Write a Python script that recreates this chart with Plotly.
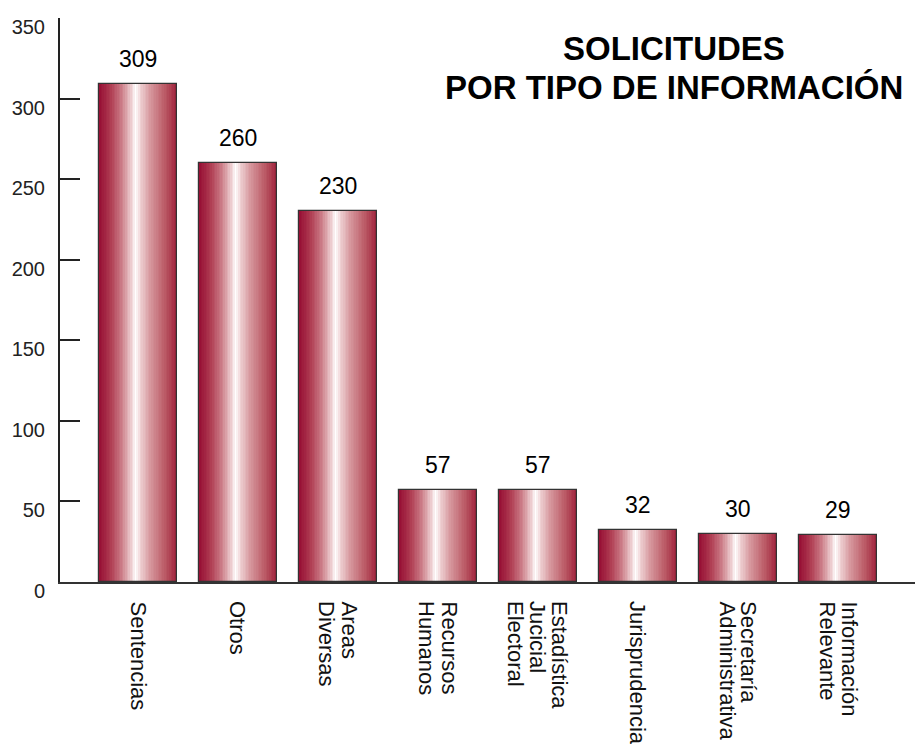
import plotly.graph_objects as go

categories = ["Sentencias", "Otros", "Areas Diversas", "Recursos Humanos",
              "Estadística Jucicial Electoral", "Jurisprudencia",
              "Secretaría Administrativa", "Información Relevante"]
values = [309, 260, 230, 57, 57, 32, 30, 29]
tick_lines = [["Sentencias"], ["Otros"], ["Areas", "Diversas"], ["Recursos", "Humanos"],
              ["Estadística", "Jucicial", "Electoral"], ["Jurisprudencia"],
              ["Secretaría", "Administrativa"], ["Información", "Relevante"]]
y_ticks = [0, 50, 100, 150, 200, 250, 300, 350]
title_lines = ["SOLICITUDES", "POR TIPO DE INFORMACIÓN"]

# gradient stops (position, rgb)
stops = [(0.00, (150, 14, 52)), (0.15, (175, 60, 82)), (0.30, (206, 130, 140)),
         (0.42, (240, 212, 214)), (0.47, (255, 255, 255)), (0.53, (238, 208, 210)),
         (0.66, (214, 150, 156)), (0.85, (186, 88, 100)), (1.00, (158, 32, 58))]

def color_at(t):
    for (p0, c0), (p1, c1) in zip(stops[:-1], stops[1:]):
        if p0 <= t <= p1:
            f = (t - p0) / (p1 - p0) if p1 > p0 else 0
            c = [round(a + (b - a) * f) for a, b in zip(c0, c1)]
            return f"rgb({c[0]},{c[1]},{c[2]})"
    return f"rgb{stops[-1][1]}"

BAR_W = 0.78
N = 48
step = BAR_W / N
fig = go.Figure()
for i in range(N):
    off = -BAR_W / 2 + i * step
    w = min(step * 1.8, BAR_W / 2 - off)
    fig.add_trace(go.Bar(x=categories, y=values, offset=off, width=w,
                         marker=dict(color=color_at((i + 0.5) / N), line=dict(width=0)),
                         hoverinfo="skip", showlegend=False))
fig.add_trace(go.Bar(x=categories, y=values, width=BAR_W,
                     marker=dict(color="rgba(0,0,0,0)", line=dict(color="#333333", width=1.2)),
                     showlegend=False, hoverinfo="x+y"))

annotations = []
for c, v in zip(categories, values):
    annotations.append(dict(x=c, y=v, xref="x", yref="y", text=str(v), showarrow=False,
                            yanchor="bottom", yshift=10,
                            font=dict(family="Liberation Sans, Arial", size=23, color="#000")))
SP = 22
for c, lines in zip(categories, tick_lines):
    k = len(lines)
    for j, ln in enumerate(lines):
        annotations.append(dict(x=c, y=0, xref="x", yref="paper", text=ln, showarrow=False,
                                textangle=90, xanchor="center", yanchor="top",
                                xshift=((k - 1) / 2 - j) * SP, yshift=-17,
                                font=dict(family="Liberation Sans, Arial", size=22, color="#111")))

W, H = 915, 750
ML, MR, MT, MB = 60, 0, 18, 168
pw, ph = W - ML - MR, H - MT - MB
for j, t in enumerate(title_lines):
    px_y = [48, 87][j]
    annotations.append(dict(x=(674 - ML) / pw, y=(H - MB - px_y) / ph, xref="paper", yref="paper",
                            text=f"<b>{t}</b>", showarrow=False, xanchor="center", yanchor="middle",
                            font=dict(family="Liberation Sans, Arial", size=33, color="#000")))

fig.update_layout(
    width=W, height=H, barmode="overlay", bargap=0,
    margin=dict(l=ML, r=MR, t=MT, b=MB, autoexpand=False),
    plot_bgcolor="white", paper_bgcolor="white",
    annotations=annotations,
    font=dict(family="Liberation Sans, Arial", color="#222"),
    xaxis=dict(type="category", range=[-0.78, 7.77], showline=True, linecolor="#333",
               linewidth=2, showticklabels=False, ticks="", showgrid=False, zeroline=False),
    yaxis=dict(range=[0, 350.01], tickvals=y_ticks, showline=True, linecolor="#222", linewidth=2,
               ticks="inside", ticklen=20, tickwidth=2, tickcolor="#222", showgrid=False,
               zeroline=False, ticklabelstandoff=9, ticklabelshift=9,
               ticklabeloverflow="allow", automargin=False,
               tickfont=dict(size=20, color="#222")),
)
fig.write_html("out.html", config={"displayModeBar": False},
               post_script="document.body.style.margin='0';")
